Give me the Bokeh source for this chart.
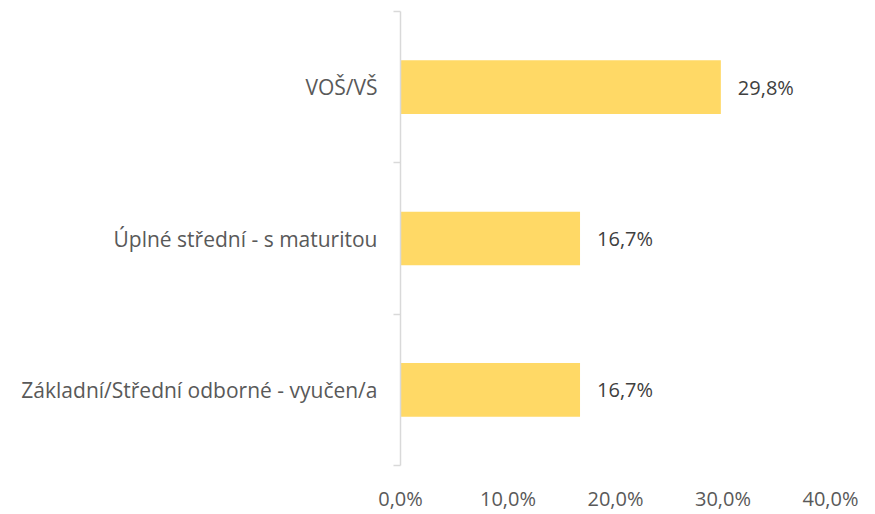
from bokeh.plotting import figure
from bokeh.models import Range1d, FixedTicker, ColumnDataSource
from bokeh.core.properties import value
from bokeh.embed import file_html
from bokeh.resources import INLINE

# Data (bottom to top)
categories = ["Základní/Střední odborné - vyučen/a", "Úplné střední - s maturitou", "VOŠ/VŠ"]
values = [16.7, 16.7, 29.8]
x_ticks = [0, 10, 20, 30, 40]
x_tick_labels = ["0,0%", "10,0%", "20,0%", "30,0%", "40,0%"]

FONT = "Open Sans"
FSIZE = "20px"
positions = [i + 0.5 for i in range(len(categories))]
labels = [f"{v:.1f}%".replace(".", ",") for v in values]

source = ColumnDataSource(dict(y=positions, v=values, lab=labels))

p = figure(width=867, height=514, output_backend="svg", toolbar_location=None,
           x_range=Range1d(0, 40), y_range=Range1d(0, len(categories)),
           min_border_left=400, min_border_right=37, min_border_top=11, min_border_bottom=46)
p.outline_line_color = None
p.xgrid.grid_line_color = None
p.ygrid.grid_line_color = None

p.hbar(y="y", right="v", left=0, height=0.355, source=source,
       fill_color="#FFD966", line_color=None)

p.text(x="v", y="y", text="lab", source=source, x_offset=17,
       text_baseline="middle", text_align="left",
       text_font=value(FONT), text_font_size=FSIZE, text_color="#404040")

# x axis
xa = p.xaxis[0]
xa.ticker = FixedTicker(ticks=x_ticks)
xa.major_label_overrides = {t: l for t, l in zip(x_ticks, x_tick_labels)}
xa.axis_line_color = None
xa.major_tick_line_color = None
xa.minor_tick_line_color = None
xa.major_tick_out = 0
xa.major_tick_in = 0
xa.minor_tick_out = 0
xa.minor_tick_in = 0
xa.major_label_standoff = 19
xa.major_label_text_font = FONT
xa.major_label_text_font_size = FSIZE
xa.major_label_text_color = "#595959"

# y axis
ya = p.yaxis[0]
ya.ticker = FixedTicker(ticks=positions, minor_ticks=list(range(len(categories) + 1)))
ya.major_label_overrides = {pos: c for pos, c in zip(positions, categories)}
ya.axis_line_color = "#D9D9D9"
ya.axis_line_width = 1.5
ya.major_tick_line_color = None
ya.major_tick_out = 0
ya.major_tick_in = 0
ya.minor_tick_line_color = "#D9D9D9"
ya.minor_tick_line_width = 1.5
ya.minor_tick_out = 7
ya.minor_tick_in = 0
ya.major_label_standoff = 16
ya.major_label_text_font = FONT
ya.major_label_text_font_size = "21px"
ya.major_label_text_color = "#595959"

open("out.html", "w").write(file_html(p, INLINE))
